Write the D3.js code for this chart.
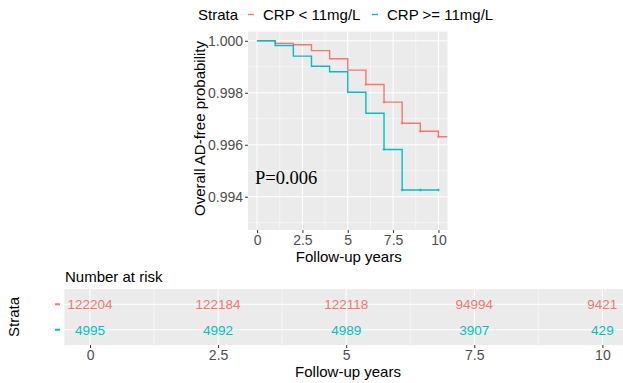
<!DOCTYPE html>
<html>
<head>
<meta charset="utf-8">
<script src="https://cdn.jsdelivr.net/npm/d3@7"></script>
<style>
  body { margin: 0; background: #fff; }
  svg { font-family: "Liberation Sans", Arial, sans-serif; }
</style>
</head>
<body>
<div id="chart"></div>
<script>
// survival curves
var strata = ["CRP < 11mg/L", "CRP >= 11mg/L"];
var colors = ["#F8766D", "#00BFC4"];

var lowTime = [0, 1, 2, 3, 4, 5, 6, 7, 8, 9, 10, 10.5];
var lowSurv = [1.0, 0.9999, 0.99985, 0.99962, 0.99931, 0.99887, 0.99832, 0.99764, 0.99683, 0.99652, 0.99631, 0.99631];
var highTime = [0, 1, 2, 3, 4, 5, 6, 7, 8, 10];
var highSurv = [1.0, 0.99982, 0.99941, 0.99902, 0.99881, 0.99802, 0.99721, 0.99582, 0.99426, 0.99426];

var lowCensor = [6, 7, 8, 9, 10];
var highCensor = [7, 8, 9, 10];

var xTicks = [0, 2.5, 5, 7.5, 10];
var xTickLabels = ["0", "2.5", "5", "7.5", "10"];
var yTicks = [0.994, 0.996, 0.998, 1.0];

// number at risk table
var riskTimes = [0, 2.5, 5, 7.5, 10];
var riskLow = [122204, 122184, 122118, 94994, 9421];
var riskHigh = [4995, 4992, 4989, 3907, 429];

var pValue = "P=0.006";

var W = 623, H = 383;
var svg = d3.select("#chart").append("svg").attr("width", W).attr("height", H);

// ---------- main survival plot ----------
var panel = {left: 248, right: 447.5, top: 31.7, bottom: 230};
var x = d3.scaleLinear().domain([-0.5, 10.5]).range([panel.left, panel.right]);
var y = d3.scaleLinear().domain([0.99272, 1.00035]).range([panel.bottom, panel.top]);

svg.append("rect")
  .attr("x", panel.left).attr("y", panel.top)
  .attr("width", panel.right - panel.left).attr("height", panel.bottom - panel.top)
  .attr("fill", "#EBEBEB");

var minorX = [-1.25, 1.25, 3.75, 6.25, 8.75];
var minorY = [0.993, 0.995, 0.997, 0.999];

svg.append("g").selectAll("line").data(minorX.filter(function(d) { return x(d) > panel.left; }))
  .enter().append("line")
  .attr("x1", function(d) { return x(d); }).attr("x2", function(d) { return x(d); })
  .attr("y1", panel.top).attr("y2", panel.bottom)
  .attr("stroke", "#fff").attr("stroke-width", 0.5);
svg.append("g").selectAll("line").data(minorY)
  .enter().append("line")
  .attr("y1", function(d) { return y(d); }).attr("y2", function(d) { return y(d); })
  .attr("x1", panel.left).attr("x2", panel.right)
  .attr("stroke", "#fff").attr("stroke-width", 0.5);
svg.append("g").selectAll("line").data(xTicks)
  .enter().append("line")
  .attr("x1", function(d) { return x(d); }).attr("x2", function(d) { return x(d); })
  .attr("y1", panel.top).attr("y2", panel.bottom)
  .attr("stroke", "#fff").attr("stroke-width", 1);
svg.append("g").selectAll("line").data(yTicks)
  .enter().append("line")
  .attr("y1", function(d) { return y(d); }).attr("y2", function(d) { return y(d); })
  .attr("x1", panel.left).attr("x2", panel.right)
  .attr("stroke", "#fff").attr("stroke-width", 1);

svg.append("clipPath").attr("id", "clip")
  .append("rect")
  .attr("x", panel.left).attr("y", panel.top)
  .attr("width", panel.right - panel.left).attr("height", panel.bottom - panel.top);

var step = d3.line()
  .x(function(d) { return x(d[0]); })
  .y(function(d) { return y(d[1]); })
  .curve(d3.curveStepAfter);

var curves = [d3.zip(lowTime, lowSurv), d3.zip(highTime, highSurv)];
var censors = [lowCensor, highCensor];

var plotG = svg.append("g").attr("clip-path", "url(#clip)");
curves.forEach(function(c, i) {
  plotG.append("path")
    .datum(c)
    .attr("d", step)
    .attr("fill", "none")
    .attr("stroke", colors[i])
    .attr("stroke-width", 1.4);

  // censor marks
  var survAt = function(t) {
    var v = c[0][1];
    c.forEach(function(p) { if (p[0] <= t) v = p[1]; });
    return v;
  };
  plotG.append("g").selectAll("path").data(censors[i])
    .enter().append("path")
    .attr("d", function(t) {
      var cx = x(t), cy = y(survAt(t));
      return "M" + (cx - 1.5) + "," + cy + "H" + (cx + 1.5) + "M" + cx + "," + (cy - 1.5) + "V" + (cy + 1.5);
    })
    .attr("stroke", colors[i])
    .attr("stroke-width", 0.8);
});

// axes
var xAxis = svg.append("g")
  .attr("transform", "translate(0," + panel.bottom + ")")
  .call(d3.axisBottom(x).tickValues(xTicks).tickFormat(function(d, i) { return xTickLabels[i]; }).tickSize(3).tickPadding(2));
var yAxis = svg.append("g")
  .attr("transform", "translate(" + panel.left + ",0)")
  .call(d3.axisLeft(y).tickValues(yTicks).tickFormat(d3.format(".3f")).tickSize(3).tickPadding(2));

[xAxis, yAxis].forEach(function(a) {
  a.select(".domain").remove();
  a.selectAll(".tick line").attr("stroke", "#333");
  a.selectAll(".tick text").attr("fill", "#4D4D4D").style("font-size", "14px")
    .style("font-family", "Liberation Sans, Arial, sans-serif");
});

svg.append("text")
  .attr("x", (panel.left + panel.right) / 2 + 1).attr("y", 262)
  .style("text-anchor", "middle").style("font-size", "15px")
  .text("Follow-up years");

svg.append("text")
  .attr("transform", "translate(205,128.5) rotate(-90)")
  .style("text-anchor", "middle").style("font-size", "15px")
  .text("Overall AD-free probability");

svg.append("text")
  .attr("x", 255).attr("y", 183.5)
  .style("font-family", "Liberation Serif, Times New Roman, serif")
  .style("font-size", "18.5px")
  .text(pValue);

// legend
var leg = svg.append("g");
leg.append("text").attr("x", 198).attr("y", 19.5).style("font-size", "15px").text("Strata");
var legX = [248, 372];
strata.forEach(function(s, i) {
  leg.append("line")
    .attr("x1", legX[i]).attr("x2", legX[i] + 6)
    .attr("y1", 14.5).attr("y2", 14.5)
    .attr("stroke", colors[i]).attr("stroke-width", 1.4);
  leg.append("text")
    .attr("x", legX[i] + 15).attr("y", 19.5)
    .style("font-size", "15px")
    .text(s);
});

// ---------- risk table ----------
var rp = {left: 64.4, right: 628, top: 289, bottom: 345};
var rx = d3.scaleLinear().domain([-0.5, 10.5]).range([rp.left, rp.right]);
var ry = d3.scalePoint().domain(strata).range([rp.top, rp.bottom]).padding(0.6);

svg.append("rect")
  .attr("x", rp.left).attr("y", rp.top)
  .attr("width", rp.right - rp.left).attr("height", rp.bottom - rp.top)
  .attr("fill", "#EBEBEB");

svg.append("g").selectAll("line").data(minorX.filter(function(d) { return rx(d) > rp.left; }))
  .enter().append("line")
  .attr("x1", function(d) { return rx(d); }).attr("x2", function(d) { return rx(d); })
  .attr("y1", rp.top).attr("y2", rp.bottom)
  .attr("stroke", "#fff").attr("stroke-width", 0.5);
svg.append("g").selectAll("line").data(xTicks)
  .enter().append("line")
  .attr("x1", function(d) { return rx(d); }).attr("x2", function(d) { return rx(d); })
  .attr("y1", rp.top).attr("y2", rp.bottom)
  .attr("stroke", "#fff").attr("stroke-width", 1);
svg.append("g").selectAll("line").data(strata)
  .enter().append("line")
  .attr("y1", function(d) { return ry(d); }).attr("y2", function(d) { return ry(d); })
  .attr("x1", rp.left).attr("x2", rp.right)
  .attr("stroke", "#fff").attr("stroke-width", 1);

[riskLow, riskHigh].forEach(function(row, i) {
  svg.append("g").selectAll("text").data(row)
    .enter().append("text")
    .attr("x", function(d, j) { return rx(riskTimes[j]); })
    .attr("y", ry(strata[i]))
    .attr("dy", "0.36em")
    .style("text-anchor", "middle")
    .style("font-size", "13.5px")
    .attr("fill", colors[i])
    .text(function(d) { return d; });
});

// strata markers on the left
svg.append("g").selectAll("line").data(strata)
  .enter().append("line")
  .attr("x1", 55).attr("x2", 60)
  .attr("y1", function(d) { return ry(d); }).attr("y2", function(d) { return ry(d); })
  .attr("stroke", function(d, i) { return colors[i]; })
  .attr("stroke-width", 2);

var rAxis = svg.append("g")
  .attr("transform", "translate(0," + rp.bottom + ")")
  .call(d3.axisBottom(rx).tickValues(riskTimes).tickFormat(function(d, i) { return xTickLabels[i]; }).tickSize(3).tickPadding(2));
rAxis.select(".domain").remove();
rAxis.selectAll(".tick line").attr("stroke", "#333");
rAxis.selectAll(".tick text").attr("fill", "#4D4D4D").style("font-size", "14px")
  .style("font-family", "Liberation Sans, Arial, sans-serif");

svg.append("text")
  .attr("x", 348).attr("y", 377)
  .style("text-anchor", "middle").style("font-size", "15px")
  .text("Follow-up years");

svg.append("text")
  .attr("x", 65).attr("y", 282)
  .style("font-size", "15px")
  .text("Number at risk");

svg.append("text")
  .attr("transform", "translate(19,317) rotate(-90)")
  .style("text-anchor", "middle").style("font-size", "15px")
  .text("Strata");
</script>
</body>
</html>
